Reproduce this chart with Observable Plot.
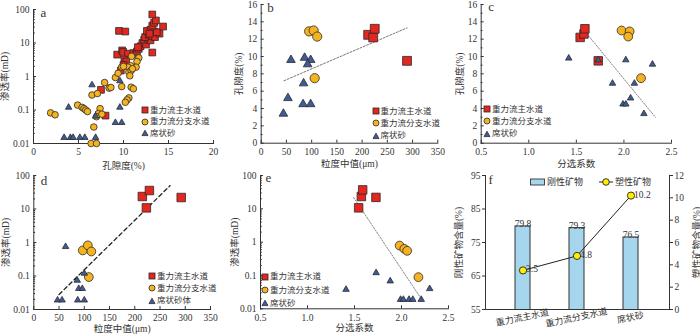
<!DOCTYPE html>
<html><head><meta charset="utf-8">
<script src="https://cdn.jsdelivr.net/npm/d3@7"></script>
<script src="https://cdn.jsdelivr.net/npm/@observablehq/plot@0.6"></script>
<style>
html,body{margin:0;padding:0;background:#fff;}
#root{position:relative;width:700px;height:334px;overflow:hidden;font-family:'Liberation Serif','Noto Sans CJK SC',serif;color:#333;}
.panel{position:absolute;}
.panel svg{overflow:visible;}
.lg{position:absolute;font-size:8.5px;line-height:1;}
.lg .row{display:flex;align-items:center;white-space:nowrap;}
.lg svg{flex:none;margin-right:1px;}
</style></head>
<body><div id="root"></div>
<script>
// ---------- data ----------
// Panel a: porosity (%) vs permeability (mD)
const aMainPor  = [9.5,10.2,9.3,9.85,9.96,10.5,10.1,10.3,10.0,9.7,7.5,8.0,11.1,11.4,11.5,11.7,11.9,12.1,12.5,12.3,12.7,13.0,12.4,12.8,13.2,13.5,14.0,12.6,13.0,13.4,13.7,14.4,13.2,13.4,13.6,13.2,13.2,11.6,12.9];
const aMainPerm = [23,22,4.5,6,5.4,4.8,3.2,2.8,2.2,1.5,0.4,0.068,5,4.8,5.6,6.7,8,10,9,12.5,13.5,12,15,17.5,16,15,19,23,25,22,21,31,33,40,47,71,5.2,7.5,19];
const aBranchPor  = [1.9,2.4,4.9,5.4,5.6,5.8,6.0,6.5,7.1,7.9,7.4,7.2,7.0,7.6,6.7,6.4,7.0,8.4,8.6,9.1,9.4,9.8,9.8,10.9,11.7,11.5,11.4,10.8,10.5,10.0,10.6,10.85,11.0,10.7,10.85,11.1,10.6,10.4,10.2];
const aBranchPerm = [0.082,0.072,0.14,0.12,0.11,0.1,0.09,0.28,0.31,0.66,0.11,0.078,0.063,0.075,0.031,0.01,0.01,0.45,0.47,0.93,1.25,1.9,0.5,4,3.6,2.8,1.9,2.1,1.9,2.0,1.35,1.5,1.7,1.05,0.48,0.43,0.23,0.2,0.17];
const aSheetPor  = [3.4,4.1,4.4,5.15,5.7,6.9,3.9,6.5,6.9,9.1,9.8,9.6,9.6];
const aSheetPerm = [0.015,0.015,0.015,0.015,0.015,0.015,0.12,0.56,0.065,0.042,0.042,0.12,0.74];

// Panel b: median grain size (um) vs porosity (%)
const bMainSize = [212,222,225,289], bMainPor = [12.5,12.2,13.2,9.5];
const bBranchSize = [95,104,111,106], bBranchPor = [12.9,13.0,12.3,7.5];
const bSheetSize = [44,53,59,84,86,98,92,83,98], bSheetPor = [3.4,5.2,9.6,6.9,9.85,9.6,9.1,4.5,4.5];
const bTrendSize = [45,289], bTrendPor = [7.2,13.3];

// Panel c: sorting coefficient vs porosity (%)
const cMainSort = [1.54,1.58,1.59,1.73], cMainPor = [12.2,12.6,13.2,9.5];
const cBranchSort = [1.975,2.06,2.045,2.18], cBranchPor = [13.0,12.9,12.3,7.5];
const cSheetSort = [1.42,1.88,2.02,2.11,2.07,1.99,2.02,2.21,2.30,1.73], cSheetPor = [9.8,6.9,9.6,6.9,5.2,4.5,4.5,3.4,9.1,9.6];
const cTrendSort = [1.59,2.33], cTrendPor = [12.9,3.0];

// Panel d: median grain size (um) vs permeability (mD)
const dMainSize = [215,229,223,292], dMainPerm = [23.6,35.6,10.8,22];
const dBranchSize = [97,107,114,109], dBranchPerm = [0.58,0.82,0.54,0.093];
const dSheetSize = [63,100,86,89,96,47,56,87,100], dSheetPerm = [0.75,0.12,0.074,0.042,0.042,0.019,0.019,0.019,0.019];
const dTrendSize = [50,270], dTrendPerm = [0.028,50];

// Panel e: sorting coefficient vs permeability (mD)
const eMainSort = [1.544,1.573,1.587,1.728], eMainPerm = [10.7,23.4,37,22];
const eBranchSort = [1.98,2.03,2.06,2.18], eBranchPerm = [0.79,0.63,0.55,0.089];
const eSheetSort = [1.41,1.73,1.88,1.99,2.02,2.08,2.12,2.21,2.30], eSheetPerm = [0.038,0.12,0.068,0.019,0.019,0.019,0.019,0.019,0.04];
const eTrendSort = [1.49,2.21], eTrendPerm = [22,0.02];

// Panel f: mineral content
const fCats = ["重力流主水道","重力流分支水道","席状砂"];
const fRigid = [79.8,79.3,76.5];
const fDuctile = [3.5,4.8,10.2];

// tick labels
const logTicks = [0.01,0.1,1,10,100];
const aXTicks = [0,5,10,15,20];
const sizeTicks = [0,50,100,150,200,250,300,350];
const sortTicks = [0.5,1.0,1.5,2.0,2.5];
const porTicks = [0,2,4,6,8,10,12,14,16];
const fLeftTicks = [55,65,75,85,95];
const fRightTicks = [0,2,4,6,8,10,12];

// ---------- styling ----------
const FONT = "'Liberation Serif','Noto Sans CJK SC',serif";
const INK = "#333";
const COL = {main:"#e4261e", branch:"#f6b320", sheet:"#3f5b9b"};
const SYM = {main:"square", branch:"circle", sheet:"triangle"};
const NAMES = {main:"重力流主水道", branch:"重力流分支水道", sheet:"席状砂"};
const root = document.getElementById("root");
const styleBase = {fontFamily: FONT, fontSize: "9.5px", color: INK, background: "transparent", overflow: "visible"};

function place(el, left, top) {
  const d = document.createElement("div");
  d.className = "panel"; d.style.left = left + "px"; d.style.top = top + "px";
  d.appendChild(el); root.appendChild(d); return d;
}
const minorLog = [];
for (let e = -2; e < 2; e++) for (let m = 2; m <= 9; m++) minorLog.push(+(m * Math.pow(10, e)).toPrecision(2));

function scatter(p) {
  const rows = [];
  for (const [key, xs, ys] of p.series) xs.forEach((x, i) => rows.push({key, x, y: ys[i]}));
  const marks = [
    Plot.frame({anchor: "left", stroke: INK}),
    Plot.frame({anchor: "bottom", stroke: INK})
  ];
  if (p.trend) {
    const t = p.trend;
    marks.push(Plot.line(t.xs.map((x, i) => ({x, y: t.ys[i]})), {x: "x", y: "y", stroke: t.stroke, strokeWidth: t.width, strokeDasharray: t.dash}));
  }
  for (const key of ["main", "branch", "sheet"]) {
    marks.push(Plot.dot(rows.filter(d => d.key === key), {x: "x", y: "y", symbol: SYM[key], r: p.r[key], fill: COL[key], stroke: "#2a2a2a", strokeWidth: 0.8}));
  }
  marks.push(
    Plot.axisX({ticks: p.xTicks, tickSize: 0, tickPadding: 5, tickFormat: p.xFmt, label: p.xLabel, labelAnchor: "center", labelArrow: "none", labelOffset: p.xLabelOffset}),
    Plot.axisX({ticks: p.xTicks, tickSize: -3, fill: "none", label: null}),
    Plot.axisY({ticks: p.yTicks, tickSize: 0, tickPadding: 4, tickFormat: p.yFmt, label: p.yLabel, labelAnchor: "center", labelArrow: "none", labelOffset: p.yLabelOffset}),
    Plot.axisY({ticks: p.yTicks, tickSize: -3, fill: "none", label: null}),
    Plot.axisY({ticks: p.yMinor, tickSize: -1.8, fill: "none", label: null}),
    Plot.text([p.letter], {text: d => d, frameAnchor: "top-left", textAnchor: "start", lineAnchor: "middle", dx: p.letterDx, dy: p.letterDy, fontSize: 13})
  );
  const chart = Plot.plot({
    width: p.w, height: p.h,
    marginLeft: p.m[0], marginRight: p.m[1], marginTop: p.m[2], marginBottom: p.m[3],
    x: {domain: p.xDomain},
    y: {type: p.yType || "linear", domain: p.yDomain},
    style: styleBase,
    marks
  });
  place(chart, p.left, p.top);
}

function legend(left, top, gap, labels) {
  const box = document.createElement("div");
  box.className = "lg"; box.style.left = left + "px"; box.style.top = top + "px";
  ["main", "branch", "sheet"].forEach((key, i) => {
    const row = document.createElement("div");
    row.className = "row"; row.style.height = gap + "px";
    const s = 8;
    let shape;
    if (key === "main") shape = `<rect x="1" y="1" width="6" height="6" fill="${COL.main}" stroke="#2a2a2a" stroke-width="0.8"/>`;
    else if (key === "branch") shape = `<circle cx="4" cy="4" r="3" fill="${COL.branch}" stroke="#2a2a2a" stroke-width="0.8"/>`;
    else shape = `<path d="M4,1.2L7,6.6L1,6.6Z" fill="${COL.sheet}" stroke="#2a2a2a" stroke-width="0.8"/>`;
    row.innerHTML = `<svg width="${s}" height="${s}">${shape}</svg><span>${labels[i]}</span>`;
    box.appendChild(row);
  });
  root.appendChild(box);
}

const fmtLog = d => String(d);
const fmt1 = d3.format(".1f");

// a
scatter({left: 0, top: 0, w: 230, h: 170, m: [33, 17, 9, 27],
  xDomain: [0, 20], yDomain: [0.01, 100], yType: "log",
  xTicks: aXTicks, yTicks: logTicks, yMinor: minorLog, yFmt: fmtLog,
  xLabel: "孔隙度(%)", yLabel: "渗透率(mD)", xLabelOffset: 25, yLabelOffset: 32,
  r: {main: 3.8, branch: 3.3, sheet: 2.4}, letter: "a", letterDx: 7, letterDy: 3,
  series: [["main", aMainPor, aMainPerm], ["branch", aBranchPor, aBranchPerm], ["sheet", aSheetPor, aSheetPerm]]});
// b
scatter({left: 230, top: 0, w: 235, h: 170, m: [30.7, 27.7, 4, 27.3],
  xDomain: [0, 350], yDomain: [0, 16],
  xTicks: sizeTicks, yTicks: porTicks, yMinor: d3.range(1, 16, 2),
  xLabel: "粒度中值(μm)", yLabel: "孔隙度(%)", xLabelOffset: 24, yLabelOffset: 26,
  r: {main: 5.0, branch: 4.6, sheet: 3.2}, letter: "b", letterDx: 6, letterDy: 3.5,
  trend: {xs: bTrendSize, ys: bTrendPor, stroke: "#777", width: 1, dash: "2,1.6"},
  series: [["main", bMainSize, bMainPor], ["branch", bBranchSize, bBranchPor], ["sheet", bSheetSize, bSheetPor]]});
// c
scatter({left: 450, top: 0, w: 250, h: 170, m: [30.7, 29, 4, 27.3],
  xDomain: [0.5, 2.5], yDomain: [0, 16],
  xTicks: sortTicks, xFmt: fmt1, yTicks: porTicks, yMinor: d3.range(1, 16, 2),
  xLabel: "分选系数", yLabel: "孔隙度(%)", xLabelOffset: 24, yLabelOffset: 25,
  r: {main: 4.8, branch: 4.4, sheet: 2.4}, letter: "c", letterDx: 7, letterDy: 2,
  trend: {xs: cTrendSort, ys: cTrendPor, stroke: "#666", width: 0.8, dash: "1.5,1.5"},
  series: [["main", cMainSort, cMainPor], ["branch", cBranchSort, cBranchPor], ["sheet", cSheetSort, cSheetPor]]});
// d
scatter({left: 0, top: 165, w: 230, h: 169, m: [33.3, 20, 10, 25],
  xDomain: [0, 350], yDomain: [0.01, 100], yType: "log",
  xTicks: sizeTicks, yTicks: logTicks, yMinor: minorLog, yFmt: fmtLog,
  xLabel: "粒度中值(μm)", yLabel: "渗透率(mD)", xLabelOffset: 22, yLabelOffset: 32,
  r: {main: 4.8, branch: 4.4, sheet: 2.4}, letter: "d", letterDx: 7, letterDy: 5,
  trend: {xs: dTrendSize, ys: dTrendPerm, stroke: "#222", width: 1.3, dash: "4,3"},
  series: [["main", dMainSize, dMainPerm], ["branch", dBranchSize, dBranchPerm], ["sheet", dSheetSize, dSheetPerm]]});
// e
scatter({left: 230, top: 165, w: 235, h: 169, m: [30, 17, 10, 25.7],
  xDomain: [0.5, 2.5], yDomain: [0.01, 100], yType: "log",
  xTicks: sortTicks, xFmt: fmt1, yTicks: logTicks, yMinor: minorLog, yFmt: fmtLog,
  xLabel: "分选系数", yLabel: "渗透率(mD)", xLabelOffset: 22, yLabelOffset: 29,
  r: {main: 4.8, branch: 4.4, sheet: 2.4}, letter: "e", letterDx: 5, letterDy: 2.5,
  trend: {xs: eTrendSort, ys: eTrendPerm, stroke: "#666", width: 0.8, dash: "1.5,1.5"},
  series: [["main", eMainSort, eMainPerm], ["branch", eBranchSort, eBranchPerm], ["sheet", eSheetSort, eSheetPerm]]});

legend(141, 104, 11.7, [NAMES.main, NAMES.branch, NAMES.sheet]);
legend(371.5, 105, 12.3, [NAMES.main, NAMES.branch, NAMES.sheet]);
legend(483, 103, 12.3, [NAMES.main, NAMES.branch, NAMES.sheet]);
legend(148, 270, 12.3, [NAMES.main, NAMES.branch, "席状砂体"]);
legend(261, 270, 13.3, [NAMES.main, NAMES.branch, NAMES.sheet]);

// f
const fRows = fCats.map((cat, i) => ({cat, rigid: fRigid[i], ductile: fDuctile[i]}));
const fX = {type: "band", domain: fCats, range: [43.5, 208.5], paddingInner: 0.727, paddingOuter: 0.3636, axis: null};
const fBars = Plot.plot({
  width: 250, height: 169, marginLeft: 35, marginRight: 31, marginTop: 10, marginBottom: 25,
  x: fX, y: {domain: [55, 95]},
  style: styleBase,
  marks: [
    Plot.barY(fRows, {x: "cat", y: "rigid", fill: "#a5d6ee", stroke: "#333", strokeWidth: 1, clip: true}),
    Plot.frame({anchor: "left", stroke: INK}),
    Plot.frame({anchor: "bottom", stroke: INK}),
    Plot.text(fRows, {x: "cat", y: "rigid", text: d => fmt1(d.rigid), lineAnchor: "bottom", dy: 1}),
    Plot.text(fRows, {x: "cat", text: "cat", frameAnchor: "bottom", dy: 11, rotate: -12, textAnchor: "middle", fontSize: 9}),
    Plot.axisY({ticks: fLeftTicks, tickSize: 3, tickPadding: 2, label: "刚性矿物含量(%)", labelAnchor: "center", labelArrow: "none", labelOffset: 30}),
    Plot.text(["f"], {text: d => d, frameAnchor: "top-left", textAnchor: "start", lineAnchor: "middle", dx: 3, dy: 4, fontSize: 13})
  ]
});
place(fBars, 450, 165);
const fLine = Plot.plot({
  width: 250, height: 169, marginLeft: 35, marginRight: 31, marginTop: 10, marginBottom: 25,
  x: fX, y: {domain: [0, 12]},
  style: styleBase,
  marks: [
    Plot.frame({anchor: "right", stroke: INK}),
    Plot.line(fRows, {x: "cat", y: "ductile", stroke: "#222", strokeWidth: 1}),
    Plot.dot(fRows, {x: "cat", y: "ductile", r: 3.6, fill: "#ffee00", stroke: "#222", strokeWidth: 0.9}),
    Plot.text(fRows, {x: "cat", y: "ductile", text: d => fmt1(d.ductile), textAnchor: "start", dx: 3, dy: -1}),
    Plot.axisY({anchor: "right", ticks: fRightTicks, tickSize: 3, tickPadding: 2, label: "塑性矿物含量(%)", labelAnchor: "center", labelArrow: "none", labelOffset: 30})
  ]
});
place(fLine, 450, 165);

// f legend
const fl = document.createElement("div");
fl.className = "lg"; fl.style.left = "530px"; fl.style.top = "177px"; fl.style.fontSize = "9px";
fl.innerHTML = `<div class="row" style="height:10px"><svg width="16" height="8"><rect x="0.5" y="1" width="14" height="6" fill="#a5d6ee" stroke="#333" stroke-width="0.9"/></svg><span style="margin-right:15px">刚性矿物</span><svg width="16" height="10"><line x1="1" y1="5" x2="15" y2="5" stroke="#222"/><circle cx="8" cy="5" r="3.3" fill="#ffee00" stroke="#222" stroke-width="0.9"/></svg><span>塑性矿物</span></div>`;
root.appendChild(fl);
</script>
</body></html>
